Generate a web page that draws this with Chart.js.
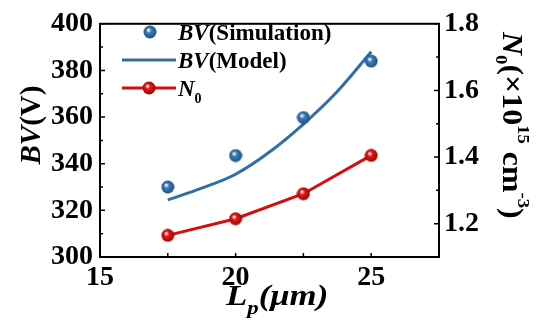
<!DOCTYPE html>
<html>
<head>
<meta charset="utf-8">
<script src="https://cdn.jsdelivr.net/npm/chart.js@4.4.0/dist/chart.umd.min.js"></script>
<style>
  html, body { margin: 0; padding: 0; background: #fff; }
  #wrap { width: 536px; height: 334px; }
</style>
</head>
<body>
<div id="wrap"><canvas id="myChart" width="536" height="334"></canvas></div>
<script>
// data
const lpSim = [17.5, 20, 22.5, 25];
const bvSim = [330, 343.5, 359.8, 384];
const lpModel = [17.5, 18.75, 20, 21.25, 22.5, 23.75, 25];
const bvModel = [324.5, 329.5, 335.5, 345, 357, 371, 388];
const lpN0 = [17.5, 20, 22.5, 25];
const n0 = [1.165, 1.215, 1.29, 1.405];

// tick labels
const xTicks = [15, 20, 25];
const xMinor = [17.5, 22.5];
const yTicks = [300, 320, 340, 360, 380, 400];
const yMinor = [310, 330, 350, 370, 390];
const y1Ticks = [1.2, 1.4, 1.6, 1.8];
const y1Minor = [1.3, 1.5, 1.7];

const blue = "#2f6fa6";
const red = "#d30e0e";
const serif = "'Liberation Serif', 'Times New Roman', serif";

function sphere(base, dark, size) {
  const c = document.createElement("canvas");
  c.width = size; c.height = size;
  const g = c.getContext("2d");
  const r = size / 2;
  const grad = g.createRadialGradient(r * 0.75, r * 0.7, 0.5, r, r, r);
  grad.addColorStop(0, "#ffffff");
  grad.addColorStop(0.3, base);
  grad.addColorStop(1, dark);
  g.fillStyle = grad;
  g.beginPath();
  g.arc(r, r, r - 0.5, 0, Math.PI * 2);
  g.fill();
  return c;
}
const blueBall = sphere("#3d80bd", "#1d4a78", 14);
const redBall = sphere("#e41a1a", "#9a0000", 14);

function pairs(xs, ys) {
  return xs.map((x, i) => ({ x: x, y: ys[i] }));
}

// draw runs of text with different styles / baseline shifts
function runs(ctx, parts, x, y) {
  let cx = x;
  parts.forEach((p) => {
    ctx.font = p.font;
    ctx.fillText(p.t, cx, y + (p.dy || 0));
    cx += ctx.measureText(p.t).width;
  });
}

const framePlugin = {
  id: "frame",
  afterDraw(chart) {
    const ctx = chart.ctx;
    const a = chart.chartArea;
    const sx = chart.scales.x, sy = chart.scales.y, sy1 = chart.scales.y1;
    ctx.save();
    ctx.strokeStyle = "#000";
    ctx.lineWidth = 2;
    ctx.strokeRect(a.left, a.top, a.right - a.left, a.bottom - a.top);
    ctx.lineWidth = 1.5;
    ctx.beginPath();
    xTicks.concat(xMinor).forEach((v) => {
      const px = sx.getPixelForValue(v);
      ctx.moveTo(px, a.bottom);
      ctx.lineTo(px, a.bottom - 4);
    });
    yTicks.forEach((v) => {
      const py = sy.getPixelForValue(v);
      ctx.moveTo(a.left, py); ctx.lineTo(a.left + 5, py);
    });
    yMinor.forEach((v) => {
      const py = sy.getPixelForValue(v);
      ctx.moveTo(a.left, py); ctx.lineTo(a.left + 3, py);
    });
    y1Ticks.forEach((v) => {
      const py = sy1.getPixelForValue(v);
      ctx.moveTo(a.right, py); ctx.lineTo(a.right - 5, py);
    });
    y1Minor.forEach((v) => {
      const py = sy1.getPixelForValue(v);
      ctx.moveTo(a.right, py); ctx.lineTo(a.right - 3, py);
    });
    ctx.stroke();

    ctx.fillStyle = "#000";
    ctx.textBaseline = "alphabetic";
    ctx.textAlign = "left";

    // x title (the figure is a little stretched sideways)
    ctx.save();
    ctx.translate(226, 305);
    ctx.scale(1.2, 1);
    runs(ctx, [
      { t: "L", font: "italic bold 29px " + serif },
      { t: "p", font: "italic bold 19px " + serif, dy: 9 },
      { t: "(\u03bcm)", font: "italic bold 29px " + serif }
    ], 0, 0);
    ctx.restore();

    // left title
    ctx.save();
    ctx.translate(40, 125);
    ctx.rotate(-Math.PI / 2);
    ctx.font = "italic bold 29px " + serif;
    let w1 = ctx.measureText("BV").width;
    ctx.font = "bold 29px " + serif;
    let w2 = ctx.measureText("(V)").width;
    runs(ctx, [
      { t: "BV", font: "italic bold 29px " + serif },
      { t: "(V)", font: "bold 29px " + serif }
    ], -(w1 + w2) / 2, 0);
    ctx.restore();

    // right title
    ctx.save();
    ctx.translate(503, 32);
    ctx.rotate(Math.PI / 2);
    ctx.scale(1.1, 1);
    const fr = "bold 29px " + serif;
    const fri = "italic bold 29px " + serif;
    const frs = "bold 17px " + serif;
    runs(ctx, [
      { t: "N", font: fri },
      { t: "0", font: frs, dy: 7 },
      { t: "(\u00d710", font: fr },
      { t: "15", font: frs, dy: -15 },
      { t: " cm", font: fr },
      { t: "-3", font: frs, dy: -15 },
      { t: ")", font: fr }
    ], 0, 0);
    ctx.restore();

    // legend
    const fl = "bold 23px " + serif;
    const fli = "italic bold 23px " + serif;
    const fls = "bold 14px " + serif;
    ctx.drawImage(blueBall, 150 - 7, 32 - 7);
    runs(ctx, [{ t: "BV", font: fli }, { t: "(Simulation)", font: fl }], 178, 40);
    ctx.strokeStyle = blue;
    ctx.lineWidth = 3;
    ctx.beginPath(); ctx.moveTo(122, 60); ctx.lineTo(176, 60); ctx.stroke();
    runs(ctx, [{ t: "BV", font: fli }, { t: "(Model)", font: fl }], 178, 68);
    ctx.strokeStyle = red;
    ctx.beginPath(); ctx.moveTo(122, 88); ctx.lineTo(176, 88); ctx.stroke();
    ctx.drawImage(redBall, 149 - 7, 88 - 7);
    runs(ctx, [{ t: "N", font: fli }, { t: "0", font: fls, dy: 7 }], 178, 96);
    ctx.restore();
  }
};

const tickFont = { family: serif, size: 28, weight: "bold" };

const config = {
  type: "line",
  data: {
    datasets: [
      {
        label: "BV(Simulation)",
        data: pairs(lpSim, bvSim),
        yAxisID: "y",
        showLine: false,
        pointStyle: blueBall,
        order: 1
      },
      {
        label: "BV(Model)",
        data: pairs(lpModel, bvModel),
        yAxisID: "y",
        borderColor: blue,
        borderWidth: 3,
        pointRadius: 0,
        cubicInterpolationMode: "monotone",
        order: 2
      },
      {
        label: "N0",
        data: pairs(lpN0, n0),
        yAxisID: "y1",
        borderColor: red,
        borderWidth: 3,
        pointStyle: redBall,
        order: 0
      }
    ]
  },
  options: {
    responsive: false,
    animation: false,
    layout: { padding: { top: 18, left: 0, right: 0, bottom: 0 } },
    plugins: { legend: { display: false }, tooltip: { enabled: false } },
    scales: {
      x: {
        type: "linear",
        min: 15,
        max: 27.5,
        grid: { display: false, drawTicks: false },
        border: { display: false },
        afterBuildTicks: (s) => { s.ticks = xTicks.map((v) => ({ value: v })); },
        afterFit: (s) => { s.height = 77; },
        ticks: { color: "#000", font: tickFont, padding: 4, maxRotation: 0 }
      },
      y: {
        position: "left",
        min: 300,
        max: 400,
        grid: { display: false, drawTicks: false },
        border: { display: false },
        afterBuildTicks: (s) => { s.ticks = yTicks.map((v) => ({ value: v })); },
        afterFit: (s) => { s.width = 100; },
        ticks: { color: "#000", font: tickFont, padding: 7 }
      },
      y1: {
        position: "right",
        min: 1.1,
        max: 1.8,
        grid: { display: false, drawTicks: false },
        border: { display: false },
        afterBuildTicks: (s) => { s.ticks = y1Ticks.map((v) => ({ value: v })); },
        afterFit: (s) => { s.width = 97; },
        ticks: {
          color: "#000",
          font: tickFont,
          padding: 5,
          callback: (v) => Number(v).toFixed(1)
        }
      }
    }
  },
  plugins: [framePlugin]
};

const myChart = new Chart(document.getElementById("myChart"), config);
</script>
</body>
</html>
